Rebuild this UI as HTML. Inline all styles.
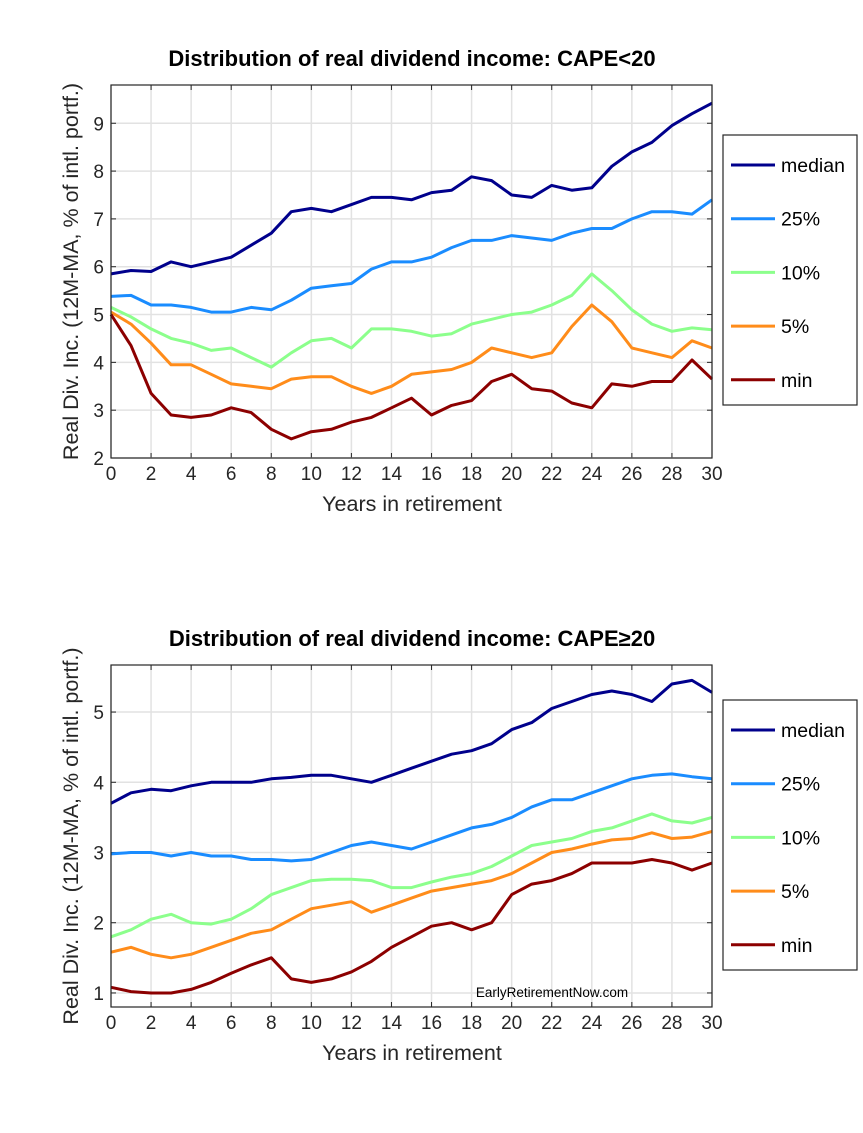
<!DOCTYPE html>
<html><head><meta charset="utf-8"><style>
body{margin:0;background:#fff;width:863px;height:1133px;overflow:hidden}
svg{display:block;font-family:"Liberation Sans",Arial,sans-serif}
</style></head><body>
<svg id="svg" width="863" height="1133"></svg>
<script>
const years=[0,1,2,3,4,5,6,7,8,9,10,11,12,13,14,15,16,17,18,19,20,21,22,23,24,25,26,27,28,29,30];
const seriesNames=["median","25%","10%","5%","min"];
const seriesColors=["#00008c","#1a8cff","#8cff8c","#ff8c1a","#8c0000"];
// Top chart CAPE<20
const topMedian=[5.85,5.92,5.9,6.1,6.0,6.1,6.2,6.45,6.7,7.15,7.22,7.15,7.3,7.45,7.45,7.4,7.55,7.6,7.88,7.8,7.5,7.45,7.7,7.6,7.65,8.1,8.4,8.6,8.95,9.2,9.42];
const top25=[5.38,5.4,5.2,5.2,5.15,5.05,5.05,5.15,5.1,5.3,5.55,5.6,5.65,5.95,6.1,6.1,6.2,6.4,6.55,6.55,6.65,6.6,6.55,6.7,6.8,6.8,7.0,7.15,7.15,7.1,7.4];
const top10=[5.15,4.95,4.7,4.5,4.4,4.25,4.3,4.1,3.9,4.2,4.45,4.5,4.3,4.7,4.7,4.65,4.55,4.6,4.8,4.9,5.0,5.05,5.2,5.4,5.85,5.5,5.1,4.8,4.65,4.72,4.68];
const top5=[5.05,4.8,4.4,3.95,3.95,3.75,3.55,3.5,3.45,3.65,3.7,3.7,3.5,3.35,3.5,3.75,3.8,3.85,4.0,4.3,4.2,4.1,4.2,4.75,5.2,4.85,4.3,4.2,4.1,4.45,4.3];
const topMin=[5.0,4.35,3.35,2.9,2.85,2.9,3.05,2.95,2.6,2.4,2.55,2.6,2.75,2.85,3.05,3.25,2.9,3.1,3.2,3.6,3.75,3.45,3.4,3.15,3.05,3.55,3.5,3.6,3.6,4.05,3.65];
// Bottom chart CAPE>=20
const botMedian=[3.7,3.85,3.9,3.88,3.95,4.0,4.0,4.0,4.05,4.07,4.1,4.1,4.05,4.0,4.1,4.2,4.3,4.4,4.45,4.55,4.75,4.85,5.05,5.15,5.25,5.3,5.25,5.15,5.4,5.45,5.28];
const bot25=[2.98,3.0,3.0,2.95,3.0,2.95,2.95,2.9,2.9,2.88,2.9,3.0,3.1,3.15,3.1,3.05,3.15,3.25,3.35,3.4,3.5,3.65,3.75,3.75,3.85,3.95,4.05,4.1,4.12,4.08,4.05];
const bot10=[1.8,1.9,2.05,2.12,2.0,1.98,2.05,2.2,2.4,2.5,2.6,2.62,2.62,2.6,2.5,2.5,2.58,2.65,2.7,2.8,2.95,3.1,3.15,3.2,3.3,3.35,3.45,3.55,3.45,3.42,3.5];
const bot5=[1.58,1.65,1.55,1.5,1.55,1.65,1.75,1.85,1.9,2.05,2.2,2.25,2.3,2.15,2.25,2.35,2.45,2.5,2.55,2.6,2.7,2.85,3.0,3.05,3.12,3.18,3.2,3.28,3.2,3.22,3.3];
const botMin=[1.08,1.02,1.0,1.0,1.05,1.15,1.28,1.4,1.5,1.2,1.15,1.2,1.3,1.45,1.65,1.8,1.95,2.0,1.9,2.0,2.4,2.55,2.6,2.7,2.85,2.85,2.85,2.9,2.85,2.75,2.85];
const xTicks=[0,2,4,6,8,10,12,14,16,18,20,22,24,26,28,30];
const topYTicks=[2,3,4,5,6,7,8,9];
const botYTicks=[1,2,3,4,5];

const NS="http://www.w3.org/2000/svg";
const svg=document.getElementById("svg");
function mk(tag,attrs,parent){const e=document.createElementNS(NS,tag);for(const k in attrs)e.setAttribute(k,attrs[k]);(parent||svg).appendChild(e);return e;}

function drawChart(cfg){
  const g=mk("g",{});
  
  
  const L=111,R=712,T=cfg.top,B=cfg.bottom;
  const xs=v=>L+(v-0)/30*(R-L);
  const ys=v=>B-(v-cfg.ymin)/(cfg.ymax-cfg.ymin)*(B-T);
  mk("rect",{x:L,y:T,width:R-L,height:B-T,fill:"#fff"},g);
  xTicks.forEach(t=>{
    const l=mk("line",{x1:xs(t),x2:xs(t),y1:T,y2:B,stroke:"#e2e2e2","stroke-width":1.5},g);
    
    
    const tx=mk("text",{x:xs(t),y:B+22,"text-anchor":"middle","font-size":19,fill:"#262626"},g);
    tx.textContent=t;
    
    
    mk("line",{x1:xs(t),x2:xs(t),y1:T,y2:T+5,stroke:"#262626"},g);
    mk("line",{x1:xs(t),x2:xs(t),y1:B,y2:B-5,stroke:"#262626"},g);
  });
  cfg.yTicks.forEach(t=>{
    const l=mk("line",{x1:L,x2:R,y1:ys(t),y2:ys(t),stroke:"#e2e2e2","stroke-width":1.5},g);
    
    
    const tx=mk("text",{x:L-7,y:ys(t)+7,"text-anchor":"end","font-size":19,fill:"#262626"},g);
    tx.textContent=t;
    
    
    mk("line",{x1:L,x2:L+5,y1:ys(t),y2:ys(t),stroke:"#262626"},g);
    mk("line",{x1:R,x2:R-5,y1:ys(t),y2:ys(t),stroke:"#262626"},g);
  });
  cfg.series.forEach((s,i)=>{
    const p=mk("polyline",{points:s.map((v,j)=>xs(years[j]).toFixed(1)+","+ys(v).toFixed(1)).join(" "),fill:"none",stroke:seriesColors[i],"stroke-width":3,"stroke-linejoin":"round"},g);
    
    
  });
  mk("rect",{x:L,y:T,width:R-L,height:B-T,fill:"none",stroke:"#262626","stroke-width":1.2},g);
  const title=mk("text",{x:412,y:T-19,"text-anchor":"middle","font-size":22,"font-weight":"bold",fill:"#000"},g);
  title.textContent=cfg.title;
  
  
  const xl=mk("text",{x:412,y:B+53,"text-anchor":"middle","font-size":21.5,fill:"#262626"},g);
  xl.textContent="Years in retirement";
  
  
  const cy=(T+B)/2;
  const yl=mk("text",{x:0,y:0,"text-anchor":"middle","font-size":21.5,fill:"#262626",transform:`translate(78,${cy}) rotate(-90)`},g);
  yl.textContent="Real Div. Inc. (12M-MA, % of intl. portf.)";
  
  
  const lg=mk("g",{},g);
  
  
  mk("rect",{x:723,y:cfg.legTop,width:134,height:270,fill:"#fff",stroke:"#262626","stroke-width":1.2},lg);
  seriesNames.forEach((n,i)=>{
    const yy=cfg.legTop+30+i*53.7;
    const e=mk("g",{},lg);
    
    
    mk("line",{x1:731,x2:775,y1:yy,y2:yy,stroke:seriesColors[i],"stroke-width":3},e);
    const t=mk("text",{x:781,y:yy+7,"font-size":19.5,fill:"#000"},e);
    t.textContent=n;
  });
  if(cfg.credit){
    const c=mk("text",{x:552,y:cfg.credit,"text-anchor":"middle","font-size":13.5,fill:"#000"},g);
    c.textContent="EarlyRetirementNow.com";
    
    
  }
}
drawChart({name:"top-chart",title:"Distribution of real dividend income: CAPE<20",top:85,bottom:458,ymin:2,ymax:9.8,yTicks:topYTicks,series:[topMedian,top25,top10,top5,topMin],legTop:135});
drawChart({name:"bottom-chart",title:"Distribution of real dividend income: CAPE\u226520",top:665,bottom:1007,ymin:0.8,ymax:5.67,yTicks:botYTicks,series:[botMedian,bot25,bot10,bot5,botMin],legTop:700,credit:997});
</script>
</body></html>
